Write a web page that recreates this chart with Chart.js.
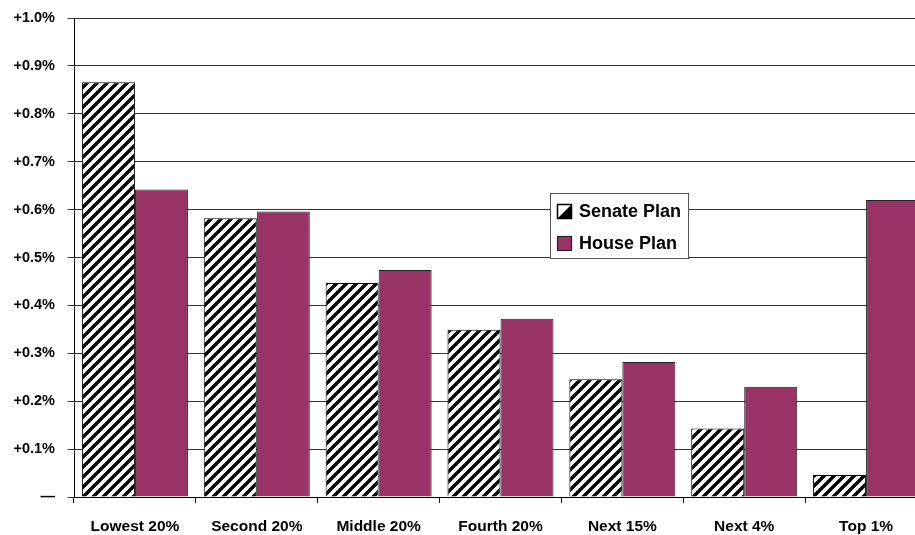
<!DOCTYPE html>
<html>
<head>
<meta charset="utf-8">
<script src="https://cdn.jsdelivr.net/npm/chart.js@4/dist/chart.umd.min.js"></script>
<style>
  html, body { margin: 0; padding: 0; background: #fff; overflow: hidden; }
  #wrap { width: 935px; height: 535px; position: relative; }
</style>
</head>
<body>
<div id="wrap"><canvas id="c" width="935" height="535"></canvas></div>
<script>
// ---- data ----
const categories = ["Lowest 20%", "Second 20%", "Middle 20%", "Fourth 20%", "Next 15%", "Next 4%", "Top 1%"];
const senatePlan = [0.866, 0.582, 0.447, 0.349, 0.246, 0.143, 0.046];
const housePlan  = [0.642, 0.596, 0.474, 0.372, 0.282, 0.230, 0.620];
const seriesNames = ["Senate Plan", "House Plan"];
const yTickValues = [0, 0.1, 0.2, 0.3, 0.4, 0.5, 0.6, 0.7, 0.8, 0.9, 1.0];
const zeroLabel = "\u2014";

const FONT = "'Liberation Sans', Arial, sans-serif";
const PLUM = '#993366';

// diagonal stripe pattern
function makeStripes() {
  const p = document.createElement('canvas');
  p.width = 10; p.height = 10;
  const g = p.getContext('2d');
  g.fillStyle = '#fff'; g.fillRect(0, 0, 10, 10);
  g.strokeStyle = '#000'; g.lineWidth = 3.4; g.lineCap = 'square';
  g.beginPath();
  g.moveTo(-2, 12); g.lineTo(12, -2);
  g.moveTo(-7, 7); g.lineTo(7, -7);
  g.moveTo(3, 17); g.lineTo(17, 3);
  g.stroke();
  return document.getElementById('c').getContext('2d').createPattern(p, 'repeat');
}
const stripes = makeStripes();

const legendBox = {
  id: 'legendBox',
  afterDraw(chart) {
    const ctx = chart.ctx;
    const ys = chart.scales.y, xs = chart.scales.x;
    const bottom = Math.round(ys.getPixelForValue(0.5));
    const left = Math.round(xs.getPixelForValue(3) + 49);
    const w = 138, h = 65, top = bottom - h;
    ctx.save();
    ctx.fillStyle = '#fff';
    ctx.fillRect(left, top, w, h);
    ctx.strokeStyle = '#555'; ctx.lineWidth = 1;
    ctx.strokeRect(left + 0.5, top + 0.5, w, h);
    ctx.font = 'bold 18px ' + FONT;
    ctx.textBaseline = 'middle';
    const rows = [top + 18, top + 50];
    const mx = left + 7.5, ms = 14;
    // senate marker
    let my = Math.round(rows[0] - ms / 2) + 0.5;
    ctx.fillStyle = '#fff'; ctx.fillRect(mx, my, ms, ms);
    ctx.fillStyle = '#000';
    ctx.beginPath(); ctx.moveTo(mx, my + ms); ctx.lineTo(mx + ms, my); ctx.lineTo(mx + ms, my + ms); ctx.closePath(); ctx.fill();
    ctx.strokeStyle = '#000'; ctx.lineWidth = 1.5; ctx.strokeRect(mx, my, ms, ms);
    // house marker
    my = Math.round(rows[1] - ms / 2) + 0.5;
    ctx.fillStyle = PLUM; ctx.fillRect(mx, my, ms, ms);
    ctx.strokeStyle = '#222'; ctx.lineWidth = 1.2; ctx.strokeRect(mx, my, ms, ms);
    ctx.fillStyle = '#000';
    ctx.fillText(seriesNames[0], left + 29, rows[0] + 1);
    ctx.fillText(seriesNames[1], left + 29, rows[1] + 1);
    ctx.restore();
  }
};

new Chart(document.getElementById('c'), {
  type: 'bar',
  data: {
    labels: categories,
    datasets: [
      { label: seriesNames[0], data: senatePlan, backgroundColor: stripes, borderColor: '#000', borderWidth: 1, borderSkipped: 'bottom' },
      { label: seriesNames[1], data: housePlan, backgroundColor: PLUM, borderColor: '#222', borderWidth: 1, borderSkipped: 'bottom' }
    ]
  },
  options: {
    responsive: false,
    animation: false,
    events: [],
    layout: { padding: { top: 18, right: 8, bottom: 0, left: 0 } },
    datasets: { bar: { categoryPercentage: 0.87, barPercentage: 1.0 } },
    plugins: { legend: { display: false }, tooltip: { enabled: false } },
    scales: {
      x: {
        offset: true,
        afterFit(s) { s.height = 38; s.paddingLeft = 0; s.paddingRight = 0; },
        grid: { offset: true, drawOnChartArea: false, drawTicks: true, tickLength: 6, color: '#000' },
        border: { display: true, color: '#000', width: 1 },
        ticks: { color: '#000', font: { family: FONT, size: 15.5, weight: 'bold', lineHeight: 1.0 }, padding: 16, maxRotation: 0, autoSkip: false }
      },
      y: {
        min: 0, max: 1.0,
        afterBuildTicks(s) { s.ticks = yTickValues.map(v => ({ value: v })); },
        afterFit(s) { s.width = 74; s.paddingTop = 0; s.paddingBottom = 0; },
        grid: { color: '#333', lineWidth: 1, tickLength: 6, drawTicks: true },
        border: { display: true, color: '#000', width: 1 },
        ticks: {
          color: '#000', padding: 13,
          font: { family: FONT, size: 14.5, weight: 'bold' },
          callback: v => v === 0 ? zeroLabel : '+' + Number(v).toFixed(1) + '%'
        }
      }
    }
  },
  plugins: [legendBox]
});
</script>
</body>
</html>
